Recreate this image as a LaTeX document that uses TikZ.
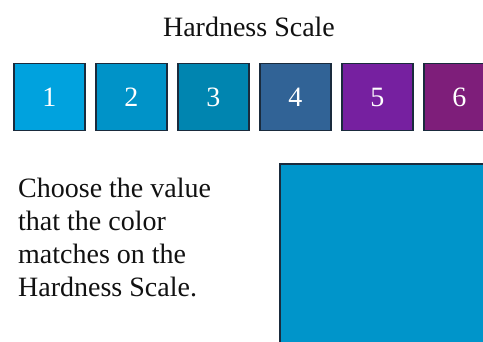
\documentclass[tikz,border=0pt]{standalone}
\usepackage{fontspec}
\setmainfont{Liberation Serif}
\definecolor{c1}{HTML}{00A2DE}
\definecolor{c2}{HTML}{0093C8}
\definecolor{c3}{HTML}{0085B0}
\definecolor{c4}{HTML}{316396}
\definecolor{c5}{HTML}{7620A0}
\definecolor{c6}{HTML}{7E1E7A}
\definecolor{cbig}{HTML}{0095CA}
\definecolor{edge}{HTML}{1A2B3D}
\definecolor{ink}{HTML}{111111}
\tikzset{
  scalebox/.style={draw=edge, line width=1.5pt, minimum width=71pt, minimum height=67pt, inner sep=0pt, anchor=north west, text=white, font=\fontsize{28}{33}\selectfont},
  bigtext/.style={font=\fontsize{28}{33}\selectfont, text=ink, inner sep=0pt}
}
\begin{document}
\begin{tikzpicture}[x=1pt,y=-1pt]
\useasboundingbox (0,0) rectangle (483,342);
\clip (0,0) rectangle (483,342);
\node[bigtext, anchor=base] (title) at (249,36.5) {Hardness Scale};
\node[scalebox, fill=c1] (b1) at (13,63) {1};
\node[scalebox, fill=c2] (b2) at (95,63) {2};
\node[scalebox, fill=c3] (b3) at (177,63) {3};
\node[scalebox, fill=c4] (b4) at (259,63) {4};
\node[scalebox, fill=c5] (b5) at (341,63) {5};
\node[scalebox, fill=c6] (b6) at (423,63) {6};
\node[bigtext, anchor=base west, align=left] (instr) at (18,297) {Choose the value\\that the color\\matches on the\\Hardness Scale.};
\draw[draw=edge, line width=1.5pt, fill=cbig] (280,164) rectangle (500,360);
\end{tikzpicture}
\end{document}
